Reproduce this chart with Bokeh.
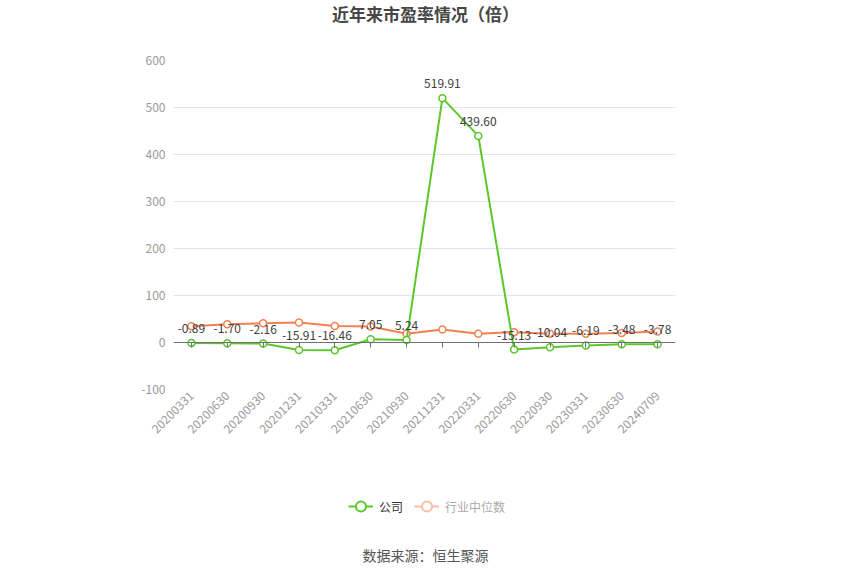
import math
from bokeh.plotting import figure
from bokeh.layouts import column
from bokeh.models import (FactorRange, Range1d, ColumnDataSource, CategoricalAxis,
                          Legend, LegendItem, Label, LabelSet, FixedTicker)
from bokeh.core.properties import value
from bokeh.embed import file_html
from bokeh.resources import INLINE

categories = ["20200331", "20200630", "20200930", "20201231", "20210331", "20210630",
              "20210930", "20211231", "20220331", "20220630", "20220930", "20230331",
              "20230630", "20240709"]
company_pe = [-0.89, -1.70, -2.16, -15.91, -16.46, 7.05, 5.24, 519.91, 439.60,
              -15.13, -10.04, -6.19, -3.48, -3.78]
industry_median = [34.5, 39, 41, 42.5, 35, 34, 18.5, 27.5, 18.5, 22, 18.5, 18.5, 20, 23.5]
company_labels = ["-0.89", "-1.70", "-2.16", "-15.91", "-16.46", "7.05", "5.24", "519.91",
                  "439.60", "-15.13", "-10.04", "-6.19", "-3.48", "-3.78"]
y_ticks = [-100, 0, 100, 200, 300, 400, 500, 600]

title_text = "近年来市盈率情况（倍）"
source_text = "数据来源：恒生聚源"
series_names = ["公司", "行业中位数"]

GREEN = "#5bc72a"
ORANGE = "#f4804f"
ORANGE_FADED = "#f9bea6"
FONT = "Noto Sans CJK SC"
W = 850
FL, FR = 173, 675          # frame left / right in page pixels
TOP_H, MAIN_H, BOT_H = 40, 430, 105


def blank_fig(h):
    f = figure(width=W, height=h, x_range=Range1d(FL, FR), y_range=Range1d(0, h),
               output_backend="svg", toolbar_location=None, x_axis_type=None,
               y_axis_type=None, min_border_left=FL, min_border_right=W - FR,
               min_border_top=0, min_border_bottom=0)
    f.outline_line_color = None
    f.grid.visible = False
    return f


# ---------- title ----------
top = blank_fig(TOP_H)
top.add_layout(Label(x=W / 2, y=TOP_H - 13, text=title_text, text_align="center",
                     text_baseline="middle", text_font=FONT, text_font_size="17px",
                     text_font_style="bold", text_color="#464646"))

# ---------- main chart ----------
p = figure(width=W, height=MAIN_H, x_range=FactorRange(factors=categories),
           y_range=Range1d(-100, 600), output_backend="svg", toolbar_location=None,
           min_border_left=FL, min_border_right=W - FR, min_border_top=20,
           min_border_bottom=81)
p.outline_line_color = None

p.xgrid.grid_line_color = None
p.ygrid.grid_line_color = "#e0e6f1"
p.ygrid.ticker = FixedTicker(ticks=y_ticks)

p.yaxis.ticker = FixedTicker(ticks=y_ticks)
p.yaxis.major_label_overrides = {t: str(t) for t in y_ticks}
p.yaxis.axis_line_color = None
p.yaxis.major_tick_line_color = None
p.yaxis.minor_tick_line_color = None
p.yaxis.major_tick_out = 0
p.yaxis.major_label_standoff = 8
p.yaxis.major_label_text_color = "#9a9a9a"
p.yaxis.major_label_text_font = FONT
p.yaxis.major_label_text_font_size = "12px"

# x axis line at zero (line + ticks only)
p.xaxis.fixed_location = 0
p.xaxis.axis_line_color = "#6e7079"
p.xaxis.major_tick_line_color = "#6e7079"
p.xaxis.major_tick_out = 5
p.xaxis.major_tick_in = 0
p.xaxis.major_label_text_font_size = "0px"
p.xaxis.major_label_text_color = None

# category labels below the frame
lab_axis = CategoricalAxis()
lab_axis.axis_line_color = None
lab_axis.major_tick_line_color = None
lab_axis.major_tick_out = 0
lab_axis.major_label_orientation = math.pi / 4
lab_axis.major_label_standoff = 4
lab_axis.major_label_text_color = "#9a9a9a"
lab_axis.major_label_text_font = FONT
lab_axis.major_label_text_font_size = "12px"
p.add_layout(lab_axis, "below")

src = ColumnDataSource(dict(x=categories, y=company_pe, ind=industry_median,
                            lab=company_labels))

p.line("x", "ind", source=src, color=ORANGE, line_width=2)
p.scatter("x", "ind", source=src, marker="circle", size=7, fill_color="white",
          line_color=ORANGE, line_width=1.5)
p.line("x", "y", source=src, color=GREEN, line_width=2)
p.scatter("x", "y", source=src, marker="circle", size=7, fill_color="white",
          line_color=GREEN, line_width=1.5)

p.add_layout(LabelSet(x="x", y="y", text="lab", source=src, text_align="center",
                      text_baseline="bottom", y_offset=10, text_color="#404040",
                      text_font=value(FONT), text_font_size="12px"))

# ---------- legend + source ----------
bot = blank_fig(BOT_H)
off = [FL - 50, FL - 40]
lg1 = bot.line(off, [-100, -100], color=GREEN, line_width=2)
ls1 = bot.scatter(off[:1], [-100], marker="circle", size=11, fill_color="white",
                  line_color=GREEN, line_width=2)
lg2 = bot.line(off, [-100, -100], color=ORANGE_FADED, line_width=2)
ls2 = bot.scatter(off[:1], [-100], marker="circle", size=11, fill_color="white",
                  line_color=ORANGE_FADED, line_width=2)

GH = 26
leg_y = BOT_H - (506 - 470) - GH / 2
common = dict(orientation="horizontal", border_line_color=None,
              background_fill_alpha=0, label_text_font=FONT,
              label_text_font_size="12px", glyph_width=25, glyph_height=GH,
              label_height=20, label_standoff=6, padding=0, margin=0)
legend1 = Legend(items=[LegendItem(label=series_names[0], renderers=[lg1, ls1])],
                 location=(348 - FL, leg_y), label_text_color="#333333", **common)
legend2 = Legend(items=[LegendItem(label=series_names[1], renderers=[lg2, ls2])],
                 location=(414 - FL, leg_y), label_text_color="#aaaaaa", **common)
bot.add_layout(legend1, "center")
bot.add_layout(legend2, "center")

bot.add_layout(Label(x=W / 2, y=BOT_H - (554 - 470), text=source_text,
                     text_align="center", text_baseline="middle", text_font=FONT,
                     text_font_size="14px", text_color="#555555"))

layout = column(top, p, bot, spacing=0)
open("out.html", "w").write(file_html(layout, INLINE))
